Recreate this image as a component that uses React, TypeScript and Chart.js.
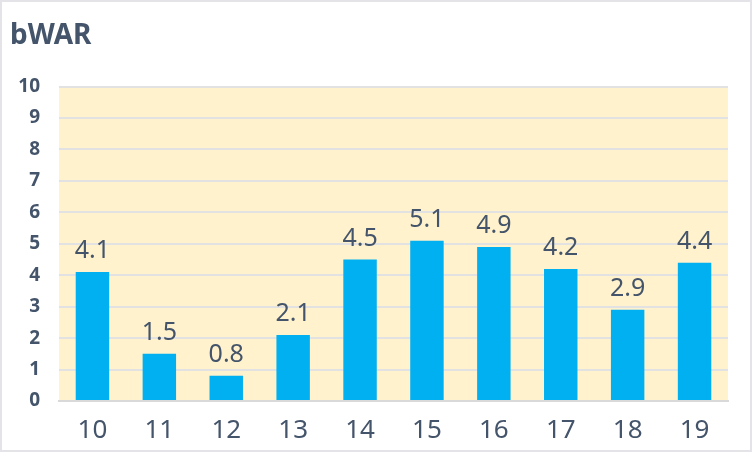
import { useEffect, useRef } from 'react'
import Chart from 'chart.js/auto'

const seasons = ['10', '11', '12', '13', '14', '15', '16', '17', '18', '19']
const bwar = [4.1, 1.5, 0.8, 2.1, 4.5, 5.1, 4.9, 4.2, 2.9, 4.4]
const yMin = 0
const yMax = 10

const textColor = '#44546A'
const fontFamily = '"Noto Sans", "Open Sans", sans-serif'

// 描画エリアの背景
const plotBackground = {
  id: 'plotBackground',
  beforeDraw(chart: any) {
    const { ctx, chartArea } = chart
    ctx.save()
    ctx.fillStyle = '#FFF2CC'
    ctx.fillRect(chartArea.left, chartArea.top, chartArea.right - chartArea.left, chartArea.bottom - chartArea.top)
    ctx.restore()
  }
}

// 棒の上の数値ラベル
const valueLabels = {
  id: 'valueLabels',
  afterDatasetsDraw(chart: any) {
    const { ctx } = chart
    const meta = chart.getDatasetMeta(0)
    ctx.save()
    ctx.fillStyle = textColor
    ctx.font = `25px ${fontFamily}`
    ctx.textAlign = 'center'
    ctx.textBaseline = 'alphabetic'
    meta.data.forEach((bar: any, i: number) => {
      ctx.fillText(bwar[i].toFixed(1), bar.x, bar.y - 14)
    })
    ctx.restore()
  }
}

export default function App() {
  const chartRef = useRef<HTMLCanvasElement>(null)
  const chartInstance = useRef<Chart | null>(null)

  useEffect(() => {
    document.body.style.margin = '0'
    if (!chartRef.current) return
    if (chartInstance.current) chartInstance.current.destroy()

    chartInstance.current = new Chart(chartRef.current, {
      type: 'bar',
      data: {
        labels: seasons,
        datasets: [{
          data: bwar,
          backgroundColor: '#00B0F0',
          barPercentage: 0.5,
          categoryPercentage: 1
        }]
      },
      options: {
        responsive: false,
        animation: false,
        layout: { padding: { left: 8, right: 22, top: 0, bottom: 0 } },
        plugins: {
          legend: { display: false },
          tooltip: { enabled: false },
          title: {
            display: true,
            text: 'bWAR',
            align: 'start',
            color: textColor,
            font: { family: fontFamily, size: 28, weight: 'bold' },
            padding: { top: 17, bottom: 34 }
          }
        },
        scales: {
          x: {
            grid: { display: false },
            border: { display: true, color: '#D9D9D9', width: 2 },
            ticks: {
              color: textColor,
              font: { family: fontFamily, size: 26 },
              padding: 6
            },
            afterFit(scale: any) { scale.height = 49 }
          },
          y: {
            min: yMin,
            max: yMax,
            grid: { color: '#E2E2E2', lineWidth: 2, drawTicks: false },
            border: { display: false },
            ticks: {
              stepSize: 1,
              color: textColor,
              font: { family: fontFamily, size: 19, weight: 'bold' },
              padding: 19
            },
            afterFit(scale: any) { scale.width = 49 }
          }
        }
      },
      plugins: [plotBackground, valueLabels]
    })

    return () => {
      if (chartInstance.current) {
        chartInstance.current.destroy()
        chartInstance.current = null
      }
    }
  }, [])

  return (
    <div style={{ width: 752, height: 452, boxSizing: 'border-box', border: '2px solid #E3E3E8', background: '#fff' }}>
      <canvas ref={chartRef} width={748} height={448} style={{ display: 'block' }} />
    </div>
  )
}
